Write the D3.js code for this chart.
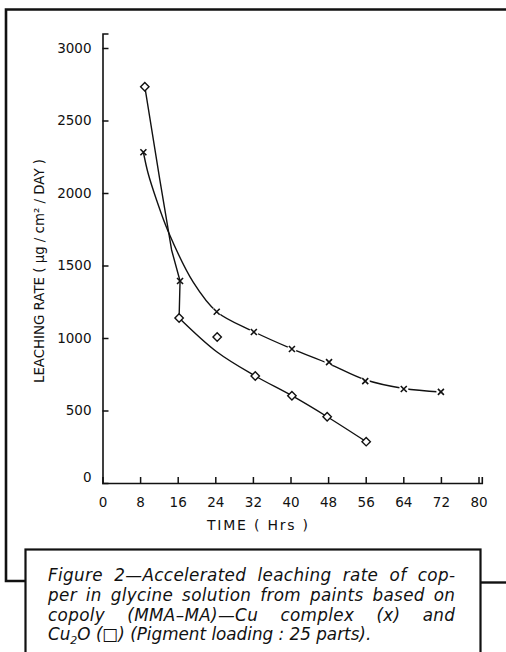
<!DOCTYPE html>
<html>
<head>
<meta charset="utf-8">
<script src="https://cdn.jsdelivr.net/npm/d3@7"></script>
<style>
  html, body { margin: 0; padding: 0; background: #fff; }
  svg { display: block; }
  text { font-family: "DejaVu Sans", sans-serif; fill: #111; }
</style>
</head>
<body>
<svg id="chart" width="506" height="652"></svg>
<script>
// Leaching rate of copper (µg/cm²/day) against time (h)

// copoly (MMA–MA)–Cu complex, marked with crosses
const complexTime = [8.7, 16.5, 24.3, 32.2, 40.3, 48.2, 55.9, 64.1, 72.0];
const complexRate = [2281, 1393, 1181, 1041, 924, 834, 703, 648, 628];
// smooth hand-fitted curve drawn through the complex data
const complexCurveTime = [8.7, 9.7, 11.5, 14.0, 19.3, 24.3, 32.2, 40.3, 48.2, 55.9, 64.1, 72.0];
const complexCurveRate = [2281, 2136, 1952, 1733, 1385, 1181, 1043, 925, 822, 712, 652, 628];

// Cu2O, marked with open diamonds
const oxideTime = [9.0, 16.3, 24.4, 32.5, 40.3, 47.8, 56.1];
const oxideRate = [2733, 1138, 1007, 738, 602, 457, 285];
// drawn Cu2O curve: a steep upper stroke, then a smooth lower one
const oxideUpperTime = [9.0, 12.2, 14.7, 16.5, 16.3];
const oxideUpperRate = [2733, 2090, 1607, 1393, 1138];
const oxideLowerTime = [16.3, 24.3, 32.5, 40.3, 47.8, 56.1];
const oxideLowerRate = [1138, 905, 738, 602, 457, 285];

// axis ticks and titles
const xTicks = [0, 8, 16, 24, 32, 40, 48, 56, 64, 72, 80];
const yTicks = [0, 500, 1000, 1500, 2000, 2500, 3000];
const xTitle = "TIME ( Hrs )";
const yTitle = "LEACHING  RATE  ( µg / cm² / DAY )";

// caption lines
const captionLines = [
  "Figure 2—Accelerated leaching rate of cop-",
  "per in glycine solution from paints based on",
  "copoly (MMA–MA)—Cu complex (x) and"
];

const svg = d3.select("#chart");
const ink = "#111";

const x = d3.scaleLinear().domain([0, 80.7]).range([102.5, 481.8]);
const y = d3.scaleLinear().domain([0, 3100]).range([483, 33.5]);

// ---- outer frame, open at the right ----
svg.append("path")
  .attr("d", "M506,9.5 L6,9.5 L6,581 L26,581")
  .attr("fill", "none").attr("stroke", ink).attr("stroke-width", 2.6);
svg.append("path")
  .attr("d", "M480,582.5 L506,582.5")
  .attr("fill", "none").attr("stroke", ink).attr("stroke-width", 2.4);

// ---- axes ----
const xAxis = d3.axisBottom(x).tickValues(xTicks).tickSize(-6).tickPadding(14)
  .tickFormat(d3.format("d"));
const yAxis = d3.axisLeft(y).tickValues(yTicks).tickSize(-6).tickPadding(11)
  .tickFormat(d3.format("d"));

const gx = svg.append("g").attr("transform", `translate(0,${y(0)})`).call(xAxis);
const gy = svg.append("g").attr("transform", `translate(${x(0)},0)`).call(yAxis);

[gx, gy].forEach(g => {
  g.select(".domain").attr("stroke", ink).attr("stroke-width", 1.6);
  g.selectAll(".tick line").attr("stroke", ink).attr("stroke-width", 1.5);
  g.selectAll(".tick text")
    .attr("fill", ink)
    .style("font-family", "'DejaVu Sans', sans-serif")
    .style("font-size", "13.5px");
});
// no tick marks at the origin
gx.selectAll(".tick").filter(d => d === 0).select("line").remove();
gy.selectAll(".tick").filter(d => d === 0).select("line").remove();
gy.selectAll(".tick").filter(d => d === 0).select("text").attr("dy", "-0.1em");

// axis titles
svg.append("text")
  .attr("x", 257.5).attr("y", 530)
  .attr("text-anchor", "middle")
  .attr("textLength", 101).attr("lengthAdjust", "spacing")
  .style("font-size", "14px")
  .text(xTitle);

svg.append("text")
  .attr("transform", "translate(43.5,271) rotate(-90)")
  .attr("text-anchor", "middle")
  .attr("textLength", 224).attr("lengthAdjust", "spacingAndGlyphs")
  .style("font-size", "13.5px")
  .text(yTitle);

// ---- curves ----
const toPts = (xs, ys) => xs.map((t, i) => [t, ys[i]]);
const smooth = d3.line().x(d => x(d[0])).y(d => y(d[1])).curve(d3.curveCatmullRom.alpha(0.5));
const straight = d3.line().x(d => x(d[0])).y(d => y(d[1]));

svg.append("path")
  .datum(toPts(complexCurveTime, complexCurveRate))
  .attr("d", smooth)
  .attr("fill", "none").attr("stroke", ink).attr("stroke-width", 1.4);

svg.append("path")
  .datum(toPts(oxideUpperTime, oxideUpperRate))
  .attr("d", straight)
  .attr("fill", "none").attr("stroke", ink).attr("stroke-width", 1.4)
  .attr("stroke-linejoin", "round");

svg.append("path")
  .datum(toPts(oxideLowerTime, oxideLowerRate))
  .attr("d", smooth)
  .attr("fill", "none").attr("stroke", ink).attr("stroke-width", 1.4);

// ---- markers ----
const complexPts = toPts(complexTime, complexRate);

// small white gaps where the fitted curve meets the later crosses
svg.append("g").selectAll("circle")
  .data(complexPts.slice(2))
  .join("circle")
  .attr("cx", d => x(d[0])).attr("cy", d => y(d[1])).attr("r", 4.6)
  .attr("fill", "#fff");

const crossSize = 3;
svg.append("g").selectAll("path")
  .data(complexPts)
  .join("path")
  .attr("d", d => {
    const cx = x(d[0]), cy = y(d[1]), s = crossSize;
    return `M${cx - s},${cy - s}L${cx + s},${cy + s}M${cx - s},${cy + s}L${cx + s},${cy - s}`;
  })
  .attr("fill", "none").attr("stroke", ink).attr("stroke-width", 1.6);

const dia = 4.2;
svg.append("g").selectAll("path")
  .data(toPts(oxideTime, oxideRate))
  .join("path")
  .attr("d", d => {
    const cx = x(d[0]), cy = y(d[1]);
    return `M${cx},${cy - dia}L${cx + dia},${cy}L${cx},${cy + dia}L${cx - dia},${cy}Z`;
  })
  .attr("fill", "#fff").attr("stroke", ink).attr("stroke-width", 1.4);

// ---- caption box ----
svg.append("rect")
  .attr("x", 25.5).attr("y", 549.5).attr("width", 455).attr("height", 120)
  .attr("fill", "#fff").attr("stroke", ink).attr("stroke-width", 2.2);

const capLeft = 48, capRight = 455;
const baselines = [581, 601, 620.5, 640];
const capStyle = t => t
  .style("font-size", "16.8px").style("font-style", "oblique");

captionLines.forEach((line, i) => {
  const t = svg.append("text")
    .attr("x", capLeft).attr("y", baselines[i])
    .call(capStyle)
    .text(line);
  // justify: share the slack between letters and word gaps
  const natural = t.node().getComputedTextLength();
  const slack = (capRight - capLeft) - natural;
  const gaps = line.split(" ").length - 1;
  const ls = Math.min(0.35, (slack * 0.4) / (line.length - 1));
  const rest = slack - ls * (line.length - 1);
  t.attr("letter-spacing", ls);
  if (gaps > 0) t.attr("word-spacing", rest / gaps);
});

const last = svg.append("text")
  .attr("x", capLeft).attr("y", baselines[3])
  .call(capStyle);
last.append("tspan").text("Cu");
last.append("tspan").attr("dy", 4).style("font-size", "11px").text("2");
last.append("tspan").attr("dy", -4).text("O (□) (Pigment loading : 25 parts).");
</script>
</body>
</html>
